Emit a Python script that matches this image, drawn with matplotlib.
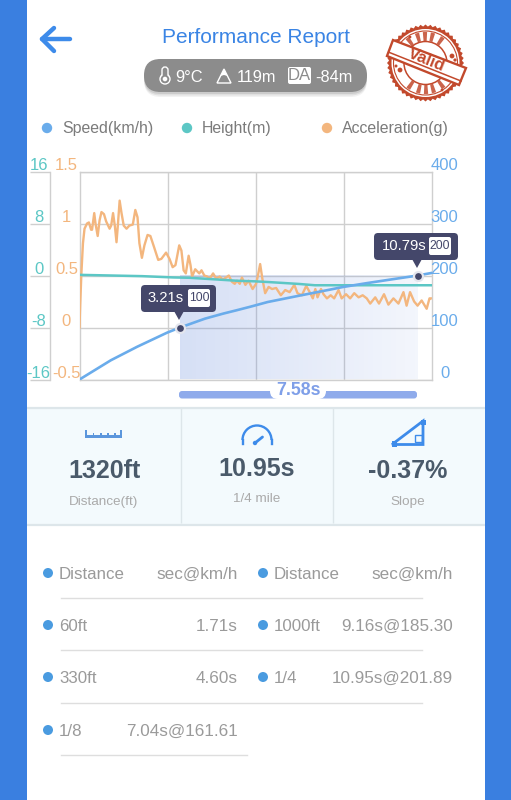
#!/usr/bin/env python3
import numpy as np
import matplotlib
matplotlib.use("Agg")
import matplotlib.pyplot as plt
from matplotlib.patches import FancyBboxPatch, Circle, Polygon, Rectangle, Arc, Wedge
from matplotlib.transforms import ScaledTranslation

plt.rcParams['font.family'] = ['Liberation Sans', 'DejaVu Sans']

# curves
speed_t = [0, 1.0, 1.84, 2.79, 3.21, 4.0, 4.6, 5.0, 5.45, 6.0, 7.04, 8.0, 8.41, 9.16, 10.0, 10.79, 10.95, 11.24]
speed_v = [0, 37, 63, 90, 100, 117, 127, 133, 140, 149, 161.6, 173, 178, 185.3, 193, 200, 201.9, 205]

height_t = [0, 1, 2, 3, 3.5, 4, 5, 5.6, 6, 7, 7.5, 8, 9, 10, 11.24]
height_v = [0.1, 0.0, -0.1, -0.3, -0.35, -0.5, -0.8, -0.9, -1.0, -1.3, -1.5, -1.5, -1.5, -1.5, -1.5]

accel_t = [0, 0.02, 0.06, 0.11, 0.16, 0.24, 0.30, 0.37, 0.40, 0.47, 0.51, 0.58, 0.64, 0.70, 0.78, 0.85,
           0.96, 1.01, 1.07, 1.13, 1.18, 1.22, 1.28, 1.34, 1.41, 1.50, 1.59, 1.70, 1.78, 1.85, 1.91,
           1.99, 2.07, 2.17, 2.26, 2.37, 2.51, 2.61, 2.76, 2.87, 2.97, 3.06, 3.18, 3.25, 3.32, 3.39,
           3.48, 3.54, 3.59, 3.69, 3.82, 3.89, 3.98, 4.07, 4.15, 4.26, 4.36, 4.47, 4.57, 4.67, 4.76,
           4.86, 4.95, 5.02, 5.11, 5.18, 5.29, 5.39, 5.52, 5.63, 5.69, 5.76, 5.83, 5.92, 6.03, 6.14,
           6.27, 6.42, 6.56, 6.70, 6.85, 6.95, 7.09, 7.23, 7.34, 7.44, 7.52, 7.59, 7.70, 7.78, 7.89,
           8.01, 8.12, 8.26, 8.36, 8.50, 8.63, 8.76, 8.90, 9.03, 9.16, 9.27, 9.43, 9.55, 9.71, 9.85,
           10.01, 10.17, 10.33, 10.43, 10.54, 10.67, 10.78, 10.91, 11.07, 11.16, 11.20]
accel_v = [0, 0.2, 0.52, 0.81, 0.95, 1.0, 1.01, 0.94, 0.94, 1.10, 1.0, 0.88, 1.03, 1.11, 1.09, 1.02,
           0.95, 0.98, 1.10, 0.97, 0.82, 0.97, 1.22, 1.10, 0.98, 0.95, 0.98, 0.99, 1.13, 1.06, 0.81,
           0.67, 0.79, 0.89, 0.88, 0.78, 0.65, 0.66, 0.72, 0.66, 0.58, 0.60, 0.79, 0.74, 0.55, 0.52,
           0.69, 0.60, 0.49, 0.56, 0.52, 0.55, 0.50, 0.49, 0.47, 0.52, 0.47, 0.49, 0.46, 0.48, 0.50,
           0.44, 0.42, 0.45, 0.42, 0.48, 0.41, 0.45, 0.37, 0.42, 0.50, 0.61, 0.47, 0.33, 0.39, 0.37,
           0.38, 0.31, 0.36, 0.34, 0.41, 0.33, 0.31, 0.40, 0.34, 0.28, 0.37, 0.29, 0.37, 0.32, 0.28,
           0.31, 0.28, 0.36, 0.28, 0.32, 0.28, 0.33, 0.29, 0.31, 0.28, 0.23, 0.29, 0.23, 0.32, 0.22,
           0.28, 0.23, 0.34, 0.21, 0.34, 0.25, 0.21, 0.26, 0.18, 0.28, 0.28]

t_max = 11.24
grid_t = [2.81, 5.62, 8.43]
speed_ticks = [0, 100, 200, 300, 400]
height_ticks = [-16, -8, 0, 8, 16]
accel_ticks = [-0.5, 0, 0.5, 1, 1.5]
accel_labels = ['-0.5', '0', '0.5', '1', '1.5']

mark_t = [3.21, 10.79]
mark_v = [100, 200]
mark_time_labels = ['3.21s', '10.79s']
mark_speed_labels = ['100', '200']
span_label = '7.58s'

legend_labels = ['Speed(km/h)', 'Height(m)', 'Acceleration(g)']
card_values = ['1320ft', '10.95s', '-0.37%']
card_labels = ['Distance(ft)', '1/4 mile', 'Slope']
table_left = [('Distance', 'sec@km/h'), ('60ft', '1.71s'), ('330ft', '4.60s'), ('1/8', '7.04s@161.61')]
table_right = [('Distance', 'sec@km/h'), ('1000ft', '9.16s@185.30'), ('1/4', '10.95s@201.89')]

BLUE = '#3a7fe0'
TITLE = '#3a84e4'
SPEED = '#6aaceb'
TEAL = '#5cc7c5'
ORANGE = '#f3b67e'
GRID = '#cfcfcf'
DARK = '#44476a'
STAMP = '#c2492c'
W, H = 511, 800

fig = plt.figure(figsize=(W / 100, H / 100), dpi=100, facecolor='white')


def px_axes(zorder):
    a = fig.add_axes([0, 0, 1, 1], zorder=zorder)
    a.set_xlim(0, W)
    a.set_ylim(H, 0)
    a.axis('off')
    a.patch.set_alpha(0)
    return a


def rbox(a, x0, y0, x1, y1, r, **kw):
    p = FancyBboxPatch((x0 + r, y0 + r), x1 - x0 - 2 * r, y1 - y0 - 2 * r,
                       boxstyle='round,pad=%f,rounding_size=%f' % (r, r), **kw)
    a.add_patch(p)
    return p


# tick labels sit just above their grid line
def lift_labels(a):
    up = ScaledTranslation(0, 2 / 100, fig.dpi_scale_trans)
    for lab in a.get_yticklabels():
        lab.set_va('baseline')
        lab.set_transform(lab.get_transform() + up)


bg = px_axes(0)
top = px_axes(5)

# side bars
bg.add_patch(Rectangle((0, 0), 26.5, H, color=BLUE, lw=0))
bg.add_patch(Rectangle((485, 0), 26, H, color=BLUE, lw=0))

# chart axes, x in seconds, three y scales
pos = [79.5 / W, 1 - 379.5 / H, (432 - 79.5) / W, (379.5 - 171.5) / H]
accel_ax = fig.add_axes(pos, zorder=1)
height_ax = fig.add_axes(pos, zorder=2)
speed_ax = fig.add_axes(pos, zorder=3)
for a in (accel_ax, height_ax, speed_ax):
    a.patch.set_alpha(0)
    a.set_xlim(0, t_max)
accel_ax.set_ylim(-0.5, 1.5)
height_ax.set_ylim(-16, 16)
speed_ax.set_ylim(0, 400)

# grid lives on the lowest axes
accel_ax.set_xticks(grid_t)
accel_ax.set_xticklabels([])
accel_ax.set_yticks(accel_ticks)
accel_ax.set_yticklabels(accel_labels, color=ORANGE, fontsize=12, ha='center')
accel_ax.grid(True, color=GRID, lw=1.0)
accel_ax.set_axisbelow(True)
accel_ax.tick_params(axis='x', length=0)
accel_ax.tick_params(axis='y', length=0, pad=9.4)
for s in accel_ax.spines.values():
    s.set_color(GRID)
    s.set_linewidth(1.0)
lift_labels(accel_ax)

# shaded span between the two markers (0.5 g lines up with 200 km/h)
shade = np.zeros((2, 256, 4))
shade[..., 0] = 0.42
shade[..., 1] = 0.56
shade[..., 2] = 0.87
shade[..., 3] = np.linspace(0.28, 0.08, 256)
accel_ax.imshow(shade, extent=[mark_t[0], mark_t[1], -0.5, 0.5], aspect='auto', zorder=1.5,
                interpolation='bilinear')
accel_ax.set_xlim(0, t_max)
accel_ax.set_ylim(-0.5, 1.5)

accel_ax.plot(accel_t, accel_v, color=ORANGE, lw=1.7, solid_joinstyle='round', zorder=3)
height_ax.plot(height_t, height_v, color=TEAL, lw=1.8)
speed_ax.plot(speed_t, speed_v, color=SPEED, lw=1.9)
speed_ax.plot(mark_t, mark_v, 'o', color=DARK, ms=6.5, mec='#e4e6ee', mew=1.6, zorder=6, clip_on=False)

# height scale, pushed out left of the plot
height_ax.xaxis.set_visible(False)
for k in ('top', 'right', 'bottom'):
    height_ax.spines[k].set_visible(False)
height_ax.spines['left'].set_position(('outward', 21.6))
height_ax.spines['left'].set_color(GRID)
height_ax.spines['left'].set_linewidth(1.0)
height_ax.set_yticks(height_ticks)
height_ax.set_yticklabels([str(v) for v in height_ticks], color=TEAL, fontsize=12, ha='center')
height_ax.tick_params(axis='y', length=14.4, width=1.0, color=GRID, pad=-6.5)
lift_labels(height_ax)

# speed scale on the right
speed_ax.xaxis.set_visible(False)
speed_ax.yaxis.tick_right()
speed_ax.set_yticks(speed_ticks)
speed_ax.set_yticklabels([str(v) for v in speed_ticks], color=SPEED, fontsize=12, ha='center')
speed_ax.tick_params(axis='y', length=0, pad=9)
for s in speed_ax.spines.values():
    s.set_visible(False)
lift_labels(speed_ax)

# marker tooltips
tips = [(141, 216, 285, 312, 179, 320, 148, 188, 210, 298), (374, 458, 233, 260, 417, 268, 382, 429, 451, 246)]
for i, (x0, x1, y0, y1, px, py, tx, bx0, bx1, cy) in enumerate(tips):
    rbox(top, x0, y0, x1, y1, 4, fc=DARK, ec='none')
    top.add_patch(Polygon([(px - 5, y1 - 1), (px + 5, y1 - 1), (px, py)], fc=DARK, ec='none'))
    top.text(tx, cy, mark_time_labels[i], color='white', fontsize=10.6, va='center', ha='left')
    rbox(top, bx0, cy - 9, bx1, cy + 9, 2, fc='white', ec='none')
    top.text((bx0 + bx1) / 2, cy, mark_speed_labels[i], color=DARK, fontsize=8.8, va='center', ha='center')

# span bar
rbox(top, 179, 391, 417, 398.5, 3, fc='#8fabeb', ec='none')
rbox(top, 270, 382, 326, 399, 8, fc='white', ec='none')
top.text(298.5, 390.5, span_label, color='#7f9fe8', fontsize=12.8, fontweight='bold', ha='center', va='center')

# header
top.plot([42, 70], [39, 39], color='#3d8bea', lw=3.2, solid_capstyle='round')
top.plot([54, 42, 54], [28, 39, 51], color='#3d8bea', lw=3.2, solid_capstyle='round', solid_joinstyle='round')
top.text(255.5, 37.5, 'Performance Report', color=TITLE, fontsize=15, ha='center', va='center')

for dy, al in ((5, 0.05), (3.5, 0.07), (2, 0.09)):
    rbox(bg, 144, 59 + dy, 367, 92 + dy, 16.5, fc='black', ec='none', alpha=al)
rbox(bg, 144, 59, 367, 92, 16.5, fc='#8c8c8c', ec='none')
top.text(175, 77, '9°C', color='white', fontsize=11.8, ha='left', va='center')
top.text(237, 77, '119m', color='white', fontsize=11.8, ha='left', va='center')
top.text(315, 77, '-84m', color='white', fontsize=11.8, ha='left', va='center')
rbox(top, 288, 67, 311, 84, 2, fc='white', ec='none')
top.text(299.5, 76, 'DA', color='#8c8c8c', fontsize=12, ha='center', va='center')
# thermometer and mountain
top.add_patch(Circle((165, 79), 5, fc='none', ec='white', lw=1))
rbox(top, 162, 67, 168, 79, 3, fc='#8c8c8c', ec='white', lw=1)
top.add_patch(Circle((165, 79), 4, fc='#8c8c8c', ec='none'))
top.add_patch(Circle((165, 79), 2.3, fc='white', ec='none'))
top.add_patch(Polygon([(217, 83), (224, 69), (231, 83)], fc='none', ec='white', lw=1))
top.add_patch(Polygon([(224, 69), (227.5, 76), (224, 75), (220.5, 76)], fc='white', ec='none'))

# stamp
cx, cy = 425.5, 63
ang = np.linspace(0, 2 * np.pi, 97)
rad = np.where(np.arange(97) % 2 == 0, 38.5, 36.5)
top.add_patch(Polygon(np.c_[cx + rad * np.cos(ang), cy + rad * np.sin(ang)], fc=STAMP, ec='none'))
top.add_patch(Circle((cx, cy), 34, fc='white', ec='none'))
top.add_patch(Circle((cx, cy), 32, fc='none', ec=STAMP, lw=0.8))
for a0 in (-130, -110, -95, -80, -60, 50, 70, 85, 100, 120):
    top.add_patch(Wedge((cx, cy), 31, a0, a0 + 8, width=9, fc=STAMP, ec='none', alpha=0.85))
top.add_patch(Circle((cx, cy), 21.5, fc='none', ec=STAMP, lw=1.1))
for bx, by, br in ((452, 56, 2.4), (455, 60, 1.6), (400, 70, 2.4), (396, 66, 1.5), (410, 37, 1.4), (442, 90, 1.4)):
    top.add_patch(Circle((bx, by), br, fc=STAMP, ec='none'))
band = [(393, 40), (466, 68), (459, 85), (387, 56)]
top.add_patch(Polygon(band, fc='white', ec=STAMP, lw=1.7))
top.plot([389.5, 461], [52.5, 81], color=STAMP, lw=1.1)
top.text(426.5, 60.5, 'Valid', color=STAMP, fontsize=12, rotation=-22, ha='center', va='center',
         rotation_mode='anchor', fontweight='bold')

# legend
for x, tx, c, lab in zip([47, 187, 327], [62, 202, 342], [SPEED, TEAL, ORANGE], legend_labels):
    top.add_patch(Circle((x, 128), 5.2, fc=c, ec='none'))
    top.text(tx, 129, lab, color='#7b7b7b', fontsize=11.4, ha='left', va='center')

# summary cards
bg.add_patch(Rectangle((26.5, 407), 458.5, 118, fc='#f3fafd', ec='none'))
for y in (407.5, 525):
    bg.plot([26.5, 485], [y, y], color='#dde6ea', lw=1.6, solid_capstyle='butt')
for x in (181, 333):
    bg.plot([x, x], [408, 523], color='#dde6ea', lw=1.0, solid_capstyle='butt')
card_x = [104, 257, 408]
card_vy = [471, 469, 471]
card_ly = [501.5, 499.5, 501.5]
for x, vy, ly, val, lab in zip(card_x, card_vy, card_ly, card_values, card_labels):
    top.text(x, vy, val, color='#4a5a6a', fontsize=18, fontweight='bold', ha='center', va='center')
    top.text(x, ly, lab, color='#aaaaaa', fontsize=9.7, ha='center', va='center')

# ruler icon
top.add_patch(Rectangle((85, 434.5), 37, 3, fc='#5b96dc', ec='none'))
for x in (86, 93.5, 101, 108, 115, 121):
    h_ = 7 if x in (86, 121) else 4
    top.add_patch(Rectangle((x - 0.8, 437 - h_), 1.6, h_, fc='#5b96dc', ec='none'))
# gauge icon
top.add_patch(Arc((257, 440), 29, 29, theta1=180, theta2=360, color='#3d8bea', lw=1.7))
top.plot([242.5, 242.5], [440, 444], color='#3d8bea', lw=1.7)
top.plot([271.5, 271.5], [440, 444], color='#3d8bea', lw=1.7)
top.plot([255, 262.5], [443, 437], color='#3d8bea', lw=2.0, solid_capstyle='round')
top.add_patch(Circle((255, 443), 2.2, fc='#3d8bea', ec='none'))
# slope icon
top.add_patch(Polygon([(392, 444.5), (423, 421), (423, 444.5)], fc='none', ec='#3d8bea', lw=2.0))
top.add_patch(Rectangle((391.5, 441), 5.5, 6, fc='#3d8bea', ec='none'))
top.add_patch(Rectangle((420.5, 419.5), 5, 5, fc='#3d8bea', ec='none'))
top.add_patch(Rectangle((415, 435), 7, 7, fc='none', ec='#3d8bea', lw=1.0))

# split table
row_y = [574.5, 626.5, 678.5, 731.5]
for rows, dot_x, name_x, val_x in ((table_left, 48, 59, 237.5), (table_right, 263, 274, 452.5)):
    for (name, val), y in zip(rows, row_y):
        top.add_patch(Circle((dot_x, y - 1.5), 5, fc='#4a9be0', ec='none'))
        top.text(name_x, y, name, color='#9a9a9a', fontsize=12.2, ha='left', va='center')
        top.text(val_x, y, val, color='#9a9a9a', fontsize=12.3, ha='right', va='center')
for y, x1 in ((598, 422), (650, 422), (703, 422), (755, 247)):
    bg.plot([61, x1], [y, y], color='#dedede', lw=1.0)

fig.savefig('out.png', dpi=100)
